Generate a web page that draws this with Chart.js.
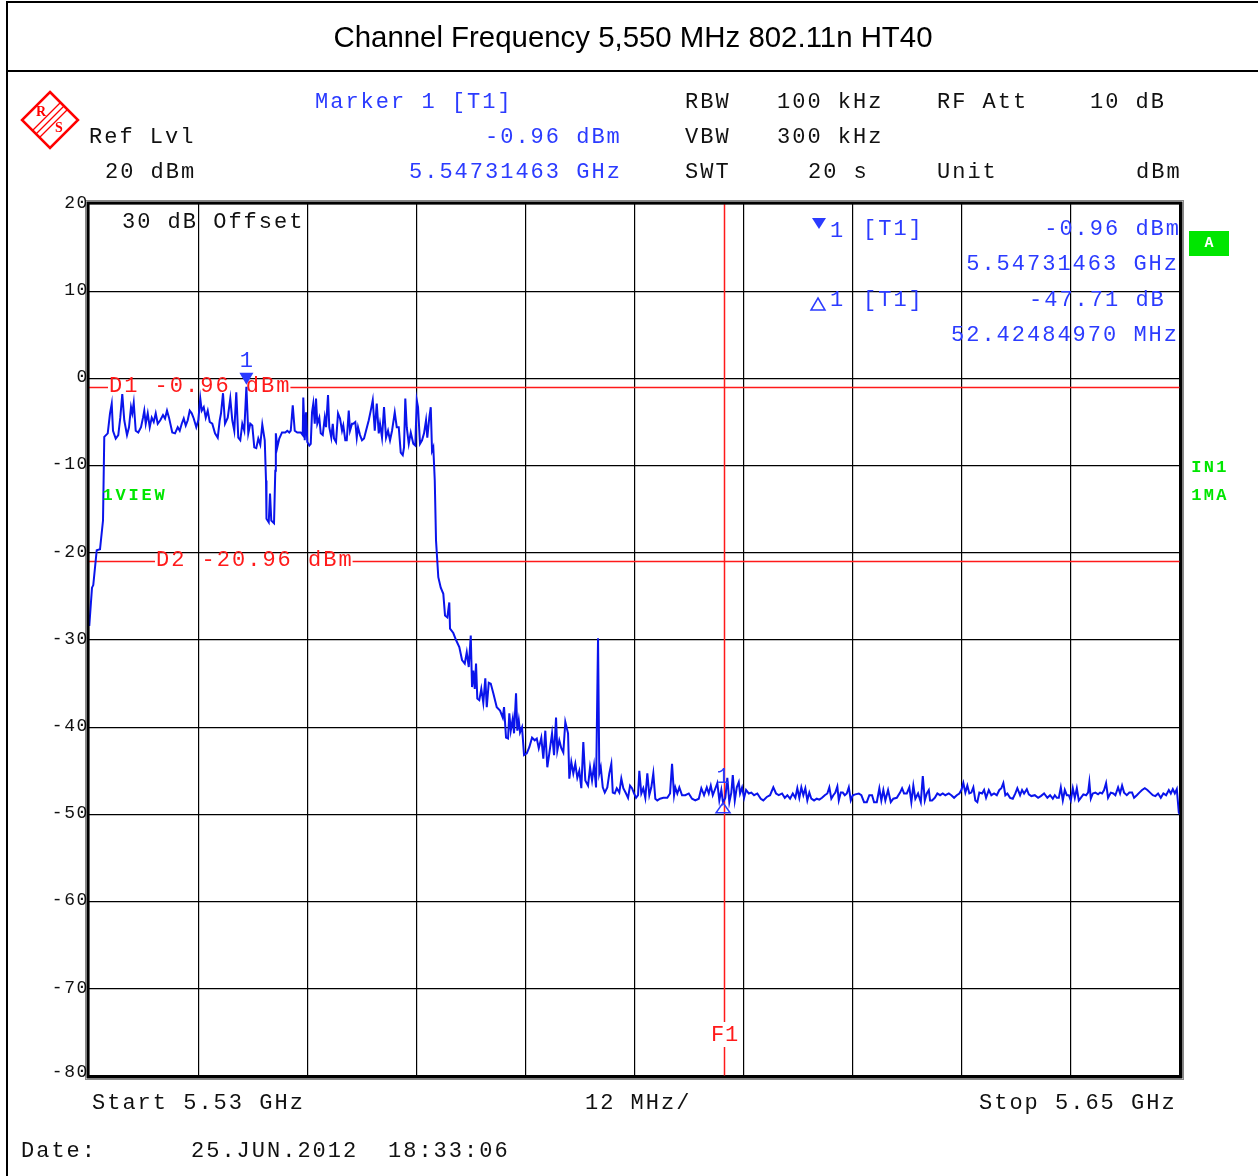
<!DOCTYPE html>
<html>
<head>
<meta charset="utf-8">
<script src="https://cdn.jsdelivr.net/npm/chart.js@4.4.0/dist/chart.umd.min.js"></script>
<style>
  body { margin: 0; background: #fff; }
  #page { position: relative; width: 1258px; height: 1176px; overflow: hidden; background: #fff; }
  #chart { position: absolute; left: 0; top: 0; }
  .frame { position: absolute; left: 6px; top: 1px; width: 1270px; height: 1190px; border-left: 2px solid #000; border-top: 2px solid #000; }
  .sep { position: absolute; left: 6px; top: 70px; width: 1270px; height: 2px; background: #000; }
  .title { position: absolute; left: 0; width: 1266px; top: 18px; text-align: center; font: 29.4px "Liberation Sans", Arial, sans-serif; color: #000; line-height: 38px; }
  .t { position: absolute; font: 22px "Liberation Mono", monospace; letter-spacing: 2px; white-space: pre; line-height: 24px; color: #111; }
  .b { color: #2b3bff; }
</style>
</head>
<body>
<div id="page">
  <canvas id="chart" width="1258" height="1176"></canvas>
  <div class="frame"></div>
  <div class="sep"></div>
  <div class="title">Channel Frequency 5,550 MHz 802.11n HT40</div>

  <div class="t b" style="left:315px;top:91px">Marker 1 [T1]</div>
  <div class="t" style="left:685px;top:91px">RBW</div>
  <div class="t" style="left:777px;top:91px">100 kHz</div>
  <div class="t" style="left:937px;top:91px">RF Att</div>
  <div class="t" style="left:1090px;top:91px">10 dB</div>

  <div class="t" style="left:89px;top:126px">Ref Lvl</div>
  <div class="t b" style="left:485px;top:126px">-0.96 dBm</div>
  <div class="t" style="left:685px;top:126px">VBW</div>
  <div class="t" style="left:777px;top:126px">300 kHz</div>

  <div class="t" style="left:105px;top:161px">20 dBm</div>
  <div class="t b" style="left:409px;top:161px">5.54731463 GHz</div>
  <div class="t" style="left:685px;top:161px">SWT</div>
  <div class="t" style="left:808px;top:161px">20 s</div>
  <div class="t" style="left:937px;top:161px">Unit</div>
  <div class="t" style="left:1136px;top:161px">dBm</div>

  <div class="t" style="left:92px;top:1092px">Start 5.53 GHz</div>
  <div class="t" style="left:585px;top:1092px">12 MHz/</div>
  <div class="t" style="left:979px;top:1092px">Stop 5.65 GHz</div>

  <div class="t" style="left:21px;top:1140px">Date:</div>
  <div class="t" style="left:191px;top:1140px">25.JUN.2012</div>
  <div class="t" style="left:388px;top:1140px">18:33:06</div>
</div>
<script>
// sweep: 5.53 GHz .. 5.65 GHz, 12 MHz/div, -80..20 dBm
const freqMin = 5530, freqMax = 5650, freqStep = 12;
const levelMin = -80, levelMax = 20, levelStep = 10;
const yTicks = [20, 10, 0, -10, -20, -30, -40, -50, -60, -70, -80];

// trace (MHz, dBm)
const freqMHz = [
  5530.03, 5530.33, 5530.47, 5530.85, 5531.21, 5531.54, 5531.68, 5532.06, 5532.31, 5532.50,
  5532.64, 5532.94, 5533.22, 5533.44, 5533.66, 5533.88, 5534.18, 5534.40, 5534.62, 5534.76,
  5534.92, 5535.14, 5535.42, 5535.72, 5535.94, 5536.08, 5536.24, 5536.46, 5536.68, 5536.90,
  5537.12, 5537.34, 5537.56, 5537.84, 5538.14, 5538.36, 5538.58, 5538.80, 5539.16, 5539.46,
  5539.76, 5539.98, 5540.20, 5540.42, 5540.64, 5540.86, 5541.08, 5541.30, 5541.52, 5541.80,
  5542.02, 5542.24, 5542.40, 5542.62, 5542.84, 5543.06, 5543.28, 5543.56, 5543.86, 5544.16,
  5544.38, 5544.52, 5544.74, 5544.96, 5545.26, 5545.54, 5545.76, 5545.98, 5546.20, 5546.42,
  5546.64, 5546.86, 5547.08, 5547.31, 5547.52, 5547.74, 5547.96, 5548.18, 5548.40, 5548.62,
  5548.84, 5549.06, 5549.33, 5549.47, 5549.52, 5549.77, 5549.91, 5550.05, 5550.35, 5550.49,
  5550.55, 5550.71, 5550.93, 5551.23, 5551.59, 5551.81, 5552.03, 5552.19, 5552.41, 5552.63,
  5552.91, 5553.29, 5553.51, 5553.57, 5553.73, 5553.87, 5554.01, 5554.23, 5554.39, 5554.53,
  5554.67, 5554.83, 5554.97, 5555.11, 5555.33, 5555.49, 5555.71, 5555.93, 5556.07, 5556.29,
  5556.43, 5556.65, 5556.81, 5556.95, 5557.17, 5557.39, 5557.61, 5557.83, 5557.97, 5558.19,
  5558.35, 5558.57, 5558.71, 5558.93, 5559.07, 5559.29, 5559.45, 5559.59, 5559.81, 5560.03,
  5560.25, 5560.47, 5560.77, 5560.99, 5561.21, 5561.43, 5561.65, 5561.87, 5562.01, 5562.23,
  5562.45, 5562.67, 5562.89, 5563.11, 5563.33, 5563.63, 5563.85, 5564.07, 5564.29, 5564.51,
  5564.65, 5564.79, 5564.95, 5565.17, 5565.39, 5565.67, 5565.89, 5566.05, 5566.19, 5566.41,
  5566.63, 5566.85, 5567.07, 5567.21, 5567.43, 5567.59, 5567.73, 5567.87, 5568.03, 5568.17,
  5568.42, 5568.69, 5568.97, 5569.16, 5569.41, 5569.63, 5569.71, 5570.07, 5570.37, 5570.73,
  5571.03, 5571.33, 5571.55, 5571.77, 5571.99, 5572.13, 5572.27, 5572.43, 5572.57, 5572.71,
  5572.93, 5573.15, 5573.37, 5573.59, 5573.75, 5573.97, 5574.19, 5574.47, 5574.85, 5575.21,
  5575.51, 5575.65, 5575.87, 5576.09, 5576.23, 5576.39, 5576.61, 5576.75, 5576.97, 5577.11,
  5577.27, 5577.41, 5577.63, 5577.85, 5578.15, 5578.43, 5578.73, 5579.03, 5579.25, 5579.47,
  5579.75, 5579.97, 5580.19, 5580.41, 5580.63, 5580.93, 5581.15, 5581.37, 5581.51, 5581.73,
  5581.95, 5582.17, 5582.39, 5582.69, 5582.83, 5583.05, 5583.27, 5583.49, 5583.71, 5583.93,
  5584.15, 5584.37, 5584.59, 5584.89, 5585.11, 5585.33, 5585.55, 5585.77, 5585.99, 5586.13,
  5586.29, 5586.51, 5586.73, 5587.01, 5587.23, 5587.45, 5587.61, 5587.83, 5588.05, 5588.33,
  5588.55, 5588.77, 5589.07, 5589.29, 5589.51, 5589.73, 5589.95, 5590.17, 5590.39, 5590.53,
  5590.75, 5590.97, 5591.19, 5591.41, 5591.63, 5591.85, 5592.07, 5592.29, 5592.51, 5592.81,
  5593.17, 5593.61, 5593.91, 5594.13, 5594.35, 5594.49, 5594.71, 5594.93, 5595.23, 5595.59,
  5595.97, 5596.33, 5596.69, 5597.07, 5597.35, 5597.65, 5597.95, 5598.17, 5598.39, 5598.61,
  5598.83, 5599.11, 5599.33, 5599.55, 5599.74, 5599.99, 5600.21, 5600.43, 5600.65, 5600.81,
  5601.03, 5601.25, 5601.47, 5601.61, 5601.83, 5602.05, 5602.27, 5602.57, 5602.85, 5603.15,
  5603.51, 5603.89, 5604.17, 5604.55, 5604.91, 5605.27, 5605.57, 5605.87, 5606.23, 5606.53,
  5606.81, 5607.11, 5607.41, 5607.69, 5607.91, 5608.13, 5608.35, 5608.57, 5608.79, 5609.01,
  5609.23, 5609.45, 5609.75, 5610.05, 5610.33, 5610.63, 5610.93, 5611.21, 5611.43, 5611.65,
  5611.87, 5612.09, 5612.31, 5612.47, 5612.69, 5612.91, 5613.13, 5613.35, 5613.57, 5613.79,
  5614.01, 5614.29, 5614.67, 5614.95, 5615.25, 5615.55, 5615.83, 5616.13, 5616.35, 5616.65,
  5616.93, 5617.15, 5617.37, 5617.59, 5617.89, 5618.19, 5618.47, 5618.85, 5619.21, 5619.43,
  5619.65, 5619.95, 5620.23, 5620.45, 5620.67, 5620.89, 5621.19, 5621.49, 5621.71, 5621.93,
  5622.15, 5622.37, 5622.51, 5622.73, 5623.03, 5623.31, 5623.61, 5623.91, 5624.19, 5624.57,
  5624.85, 5625.15, 5625.45, 5625.73, 5625.95, 5626.17, 5626.39, 5626.61, 5626.83, 5627.05,
  5627.27, 5627.49, 5627.71, 5627.93, 5628.23, 5628.45, 5628.67, 5628.97, 5629.25, 5629.55,
  5629.85, 5630.13, 5630.35, 5630.57, 5630.79, 5631.01, 5631.31, 5631.61, 5631.89, 5632.11,
  5632.41, 5632.63, 5632.85, 5633.15, 5633.37, 5633.65, 5634.03, 5634.39, 5634.69, 5635.05,
  5635.41, 5635.71, 5636.01, 5636.23, 5636.45, 5636.67, 5636.89, 5637.11, 5637.33, 5637.55,
  5637.77, 5637.99, 5638.21, 5638.43, 5638.65, 5638.87, 5639.09, 5639.37, 5639.67, 5639.89,
  5640.03, 5640.19, 5640.41, 5640.69, 5640.99, 5641.21, 5641.43, 5641.65, 5641.87, 5642.09,
  5642.39, 5642.67, 5642.89, 5643.19, 5643.41, 5643.63, 5643.85, 5644.15, 5644.43, 5644.73,
  5644.95, 5645.25, 5645.53, 5645.83, 5646.13, 5646.41, 5646.71, 5647.01, 5647.29, 5647.59,
  5647.89, 5648.17, 5648.47, 5648.77, 5648.99, 5649.21, 5649.43, 5649.65, 5649.87, 5650.00
];
const levelDbm = [
  -28.4, -24.0, -23.7, -19.7, -19.6, -16.3, -6.7, -6.3, -4.0, -2.9,
  -6.0, -6.9, -6.5, -4.5, -1.8, -4.8, -6.5, -5.6, -3.3, -4.0,
  -2.8, -6.0, -6.2, -5.6, -4.5, -3.7, -5.2, -4.0, -5.6, -4.5,
  -5.0, -4.0, -5.2, -4.8, -4.2, -4.6, -3.7, -4.5, -6.2, -6.3,
  -5.6, -6.0, -5.2, -4.6, -5.4, -4.8, -3.7, -4.0, -4.6, -5.6,
  -4.8, -2.3, -3.7, -3.3, -4.5, -3.7, -5.0, -5.2, -6.3, -6.8,
  -4.8, -4.0, -1.7, -5.2, -4.5, -2.3, -4.8, -6.0, -1.6, -6.8,
  -7.1, -5.2, -6.0, -0.96, -6.3, -5.2, -5.4, -7.9, -8.0, -6.9,
  -7.6, -5.3, -7.1, -11.7, -16.1, -16.5, -13.2, -16.3, -16.6, -10.6,
  -6.3, -7.9, -6.9, -6.2, -6.2, -6.0, -6.2, -6.0, -3.1, -6.0,
  -6.2, -6.2, -6.5, -2.2, -7.1, -3.9, -7.3, -7.7, -7.5, -3.9,
  -2.9, -5.2, -2.3, -5.2, -4.5, -6.3, -6.5, -4.5, -5.6, -1.9,
  -5.6, -6.8, -5.2, -6.9, -7.3, -4.0, -4.6, -6.0, -5.4, -7.1,
  -7.1, -3.7, -6.0, -5.2, -5.2, -5.0, -6.8, -5.6, -6.5, -7.1,
  -6.9, -6.0, -4.8, -3.7, -2.5, -6.0, -2.9, -6.3, -5.2, -6.8,
  -3.3, -6.8, -6.0, -7.1, -6.0, -3.9, -5.6, -5.6, -8.5, -8.8,
  -7.9, -2.3, -5.6, -7.5, -6.2, -7.5, -7.7, -2.5, -3.3, -7.5,
  -7.1, -6.3, -4.8, -6.8, -4.5, -3.3, -8.3, -7.9, -11.7, -18.6,
  -22.8, -24.0, -24.7, -27.2, -27.4, -25.7, -28.7, -29.2, -30.0, -30.8,
  -32.3, -32.7, -31.4, -33.1, -29.5, -35.4, -33.5, -35.6, -32.7, -36.7,
  -36.9, -35.6, -37.2, -34.4, -37.7, -34.9, -35.0, -36.1, -37.7, -38.1,
  -38.9, -37.7, -41.2, -41.3, -38.4, -40.4, -39.0, -40.7, -36.1, -40.4,
  -39.2, -40.6, -40.0, -43.2, -43.0, -42.3, -41.2, -41.5, -41.3, -42.4,
  -41.2, -43.6, -40.4, -44.6, -43.0, -40.7, -43.2, -38.9, -42.7, -41.5,
  -42.4, -42.9, -39.4, -40.7, -45.9, -44.0, -45.3, -44.2, -45.8, -45.0,
  -47.0, -41.7, -46.1, -46.7, -44.6, -46.1, -44.4, -46.9, -29.8, -45.3,
  -44.6, -46.9, -47.5, -46.9, -45.3, -44.2, -47.5, -47.6, -47.0, -47.5,
  -45.9, -47.0, -47.6, -48.1, -46.7, -47.0, -47.6, -48.1, -47.8, -45.0,
  -47.6, -47.0, -48.1, -45.3, -47.8, -46.9, -45.3, -48.2, -48.4, -48.2,
  -48.1, -48.1, -47.6, -44.2, -47.8, -46.9, -47.6, -46.9, -47.8, -47.8,
  -47.6, -48.2, -48.4, -48.2, -47.0, -47.8, -46.9, -47.6, -46.7, -47.8,
  -47.2, -46.4, -48.4, -47.2, -48.67, -48.1, -45.8, -48.6, -47.5, -45.5,
  -48.4, -46.9, -46.3, -47.6, -46.9, -48.1, -47.2, -47.6, -47.5, -47.8,
  -47.6, -48.2, -48.4, -48.0, -47.8, -46.9, -47.6, -47.8, -47.6, -48.1,
  -47.8, -48.2, -47.6, -48.1, -47.0, -48.1, -46.9, -47.8, -47.0, -48.4,
  -47.5, -48.2, -48.4, -48.2, -48.3, -48.1, -47.8, -47.6, -46.9, -48.2,
  -47.8, -47.5, -46.8, -48.4, -47.5, -47.5, -47.8, -47.6, -46.9, -48.4,
  -47.8, -47.7, -47.6, -47.8, -48.6, -48.6, -47.8, -47.8, -48.6, -48.6,
  -47.0, -48.4, -47.2, -48.4, -47.2, -48.6, -48.2, -48.1, -47.5, -47.0,
  -47.6, -47.6, -46.9, -48.6, -46.7, -48.2, -47.6, -48.6, -45.6, -48.4,
  -47.6, -47.2, -48.4, -48.4, -48.1, -47.6, -47.8, -47.6, -47.8, -47.6,
  -47.8, -48.1, -47.8, -47.6, -47.2, -46.4, -47.5, -46.7, -47.6, -47.5,
  -46.9, -48.4, -48.6, -47.5, -47.6, -47.2, -48.1, -47.2, -47.8, -47.6,
  -47.8, -47.2, -47.0, -46.4, -47.8, -47.6, -48.1, -48.2, -47.6, -47.0,
  -47.8, -47.2, -47.6, -47.1, -47.7, -47.9, -47.8, -48.1, -47.9, -47.6,
  -48.1, -47.8, -48.2, -47.8, -48.1, -48.1, -46.9, -48.4, -47.2, -47.8,
  -47.8, -48.4, -47.0, -48.1, -47.0, -48.4, -48.1, -47.7, -47.8, -47.5,
  -46.3, -48.2, -47.6, -47.5, -47.7, -47.5, -47.6, -47.2, -46.4, -48.1,
  -47.5, -47.6, -47.8, -46.9, -47.6, -46.7, -47.5, -47.8, -47.5, -47.5,
  -48.1, -47.8, -47.5, -47.2, -47.0, -47.2, -47.5, -47.8, -47.9, -47.6,
  -48.1, -47.6, -47.8, -47.2, -47.6, -47.1, -47.6, -47.1, -49.8, -50.0
];

// markers and display lines
const marker1 = { freq: 5547.31463, level: -0.96 };
const delta1 = { freq: 5599.73960, dLevel: -47.71, dFreq: 52.42484970 };
const displayLines = [-0.96, -20.96];
const displayLineNames = ['D1', 'D2'];
const f1Freq = 5599.8;

// style
const BLUE = '#2b3bff', TRACE = 'rgb(10,20,235)', RED = '#ff1a1a', GREEN = '#00e600';
const MONO = '22px "Liberation Mono", monospace';
const PITCH = 15.2;
const dLabelOffset = [19, 66];

function monoText(ctx, str, x, y, pitch, align) {
  const start = align === 'right' ? x - str.length * pitch : x;
  ctx.textAlign = 'center';
  ctx.textBaseline = 'middle';
  for (let i = 0; i < str.length; i++) {
    ctx.fillText(str[i], start + pitch * (i + 0.5), y);
  }
}

function seg(ctx, x1, y1, x2, y2) {
  ctx.beginPath();
  ctx.moveTo(x1, y1);
  ctx.lineTo(x2, y2);
  ctx.stroke();
}

const overlay = {
  id: 'overlay',
  beforeDatasetsDraw(chart) {
    const {ctx, chartArea: a, scales: {x, y}} = chart;
    ctx.save();
    ctx.strokeStyle = RED;
    ctx.lineWidth = 1.5;
    ctx.fillStyle = RED;
    ctx.font = MONO;
    displayLines.forEach((lv, i) => {
      const py = Math.round(y.getPixelForValue(lv)) + 0.5;
      const label = displayLineNames[i] + ' ' + lv.toFixed(2) + ' dBm';
      const tx = a.left + dLabelOffset[i];
      const tw = label.length * PITCH;
      seg(ctx, a.left, py, tx, py);
      seg(ctx, tx + tw, py, a.right, py);
      monoText(ctx, label, tx, py - 1, PITCH, 'left');
    });
    // F1 frequency line
    const fx = Math.round(x.getPixelForValue(f1Freq)) + 0.5;
    const fy = a.bottom - 41;
    seg(ctx, fx, a.top, fx, fy - 13);
    seg(ctx, fx, fy + 12, fx, a.bottom);
    monoText(ctx, 'F1', fx - 14, fy, 14, 'left');
    ctx.restore();
  },
  afterDatasetsDraw(chart) {
    const {ctx, chartArea: a, scales: {x, y}} = chart;
    ctx.save();

    // frame of the diagram
    ctx.strokeStyle = '#000';
    ctx.lineWidth = 3;
    ctx.strokeRect(a.left - 1, a.top - 1, a.right - a.left + 2, a.bottom - a.top + 2);
    ctx.lineWidth = 1;
    ctx.strokeStyle = '#888';
    ctx.strokeRect(a.left - 3.5, a.top - 3.5, a.right - a.left + 7, a.bottom - a.top + 7);

    // level tick labels
    ctx.fillStyle = '#111';
    ctx.font = '18px "Liberation Mono", monospace';
    yTicks.forEach(v => {
      const py = Math.min(y.getPixelForValue(v) - 1, a.bottom - 4);
      monoText(ctx, String(v), a.left - 1, py, 12.3, 'right');
    });

    ctx.font = MONO;
    monoText(ctx, '30 dB Offset', a.left + 32, a.top + 18, PITCH, 'left');

    // marker 1
    ctx.fillStyle = BLUE;
    ctx.strokeStyle = BLUE;
    const mx = x.getPixelForValue(marker1.freq), my = y.getPixelForValue(marker1.level);
    ctx.beginPath();
    ctx.moveTo(mx - 7, my - 14);
    ctx.lineTo(mx + 7, my - 14);
    ctx.lineTo(mx, my - 2);
    ctx.closePath();
    ctx.fill();
    ctx.textAlign = 'center';
    ctx.textBaseline = 'middle';
    ctx.fillText('1', mx, my - 26);

    // delta marker 1
    const dx = x.getPixelForValue(delta1.freq), dy = y.getPixelForValue(marker1.level + delta1.dLevel);
    ctx.lineWidth = 1.5;
    ctx.beginPath();
    ctx.moveTo(dx, dy);
    ctx.lineTo(dx + 7, dy + 10);
    ctx.lineTo(dx - 7, dy + 10);
    ctx.closePath();
    ctx.stroke();
    ctx.fillText('1', dx, dy - 26);

    // marker table
    ctx.beginPath();
    ctx.moveTo(812, 218);
    ctx.lineTo(826, 218);
    ctx.lineTo(819, 229);
    ctx.closePath();
    ctx.fill();
    monoText(ctx, '1', 829, 231, PITCH, 'left');
    monoText(ctx, '[T1]', 862, 229, PITCH, 'left');
    monoText(ctx, marker1.level.toFixed(2) + ' dBm', a.right, 229, PITCH, 'right');
    monoText(ctx, (marker1.freq / 1000).toFixed(8) + ' GHz', a.right - 2, 264, PITCH, 'right');
    ctx.beginPath();
    ctx.moveTo(818, 298);
    ctx.lineTo(825, 310);
    ctx.lineTo(811, 310);
    ctx.closePath();
    ctx.stroke();
    monoText(ctx, '1', 829, 300, PITCH, 'left');
    monoText(ctx, '[T1]', 862, 300, PITCH, 'left');
    monoText(ctx, delta1.dLevel.toFixed(2) + ' dB ', a.right, 300, PITCH, 'right');
    monoText(ctx, delta1.dFreq.toFixed(8) + ' MHz', a.right - 2, 335, PITCH, 'right');

    // green status labels
    ctx.fillStyle = GREEN;
    ctx.font = 'bold 17px "Liberation Mono", monospace';
    monoText(ctx, '1VIEW', a.left + 12, 496, 13, 'left');
    monoText(ctx, 'IN1', a.right + 10, 468, 12.5, 'left');
    monoText(ctx, '1MA', a.right + 10, 496, 12.5, 'left');
    ctx.fillRect(a.right + 9, 231, 40, 25);
    ctx.fillStyle = '#fff';
    ctx.font = 'bold 15px "Liberation Mono", monospace';
    ctx.textAlign = 'center';
    ctx.fillText('A', a.right + 29, 243);

    // R&S logo
    ctx.strokeStyle = '#ff0000';
    ctx.fillStyle = '#ff0000';
    ctx.lineWidth = 2.5;
    const cx = 50, cy = 120, r = 28;
    ctx.beginPath();
    ctx.moveTo(cx, cy - r);
    ctx.lineTo(cx + r, cy);
    ctx.lineTo(cx, cy + r);
    ctx.lineTo(cx - r, cy);
    ctx.closePath();
    ctx.stroke();
    ctx.lineWidth = 1.3;
    [-3.5, 0, 3.5].forEach(o => {
      seg(ctx, cx - r / 2 + o, cy + r / 2 + o, cx + r / 2 + o, cy - r / 2 + o);
    });
    ctx.font = 'bold 14px "Liberation Serif", serif';
    ctx.fillText('R', cx - 9, cy - 8);
    ctx.fillText('S', cx + 9, cy + 8);

    ctx.restore();
  }
};

const traceData = freqMHz.map((f, i) => ({x: f, y: levelDbm[i]}));

new Chart(document.getElementById('chart').getContext('2d'), {
  type: 'line',
  data: {
    datasets: [{
      data: traceData,
      borderColor: TRACE,
      borderWidth: 2,
      pointRadius: 0,
      tension: 0,
      fill: false
    }]
  },
  options: {
    responsive: false,
    animation: false,
    layout: { padding: { left: 89, top: 204, right: 78, bottom: 100 } },
    plugins: { legend: { display: false }, tooltip: { enabled: false } },
    scales: {
      x: {
        type: 'linear', min: freqMin, max: freqMax,
        ticks: { display: false, stepSize: freqStep },
        grid: { color: '#000', lineWidth: 1.2, drawTicks: false },
        border: { display: false },
        afterFit: s => { s.height = 0; }
      },
      y: {
        type: 'linear', min: levelMin, max: levelMax,
        ticks: { display: false, stepSize: levelStep },
        grid: { color: '#000', lineWidth: 1.2, drawTicks: false },
        border: { display: false },
        afterFit: s => { s.width = 0; }
      }
    }
  },
  plugins: [overlay]
});
</script>
</body>
</html>
